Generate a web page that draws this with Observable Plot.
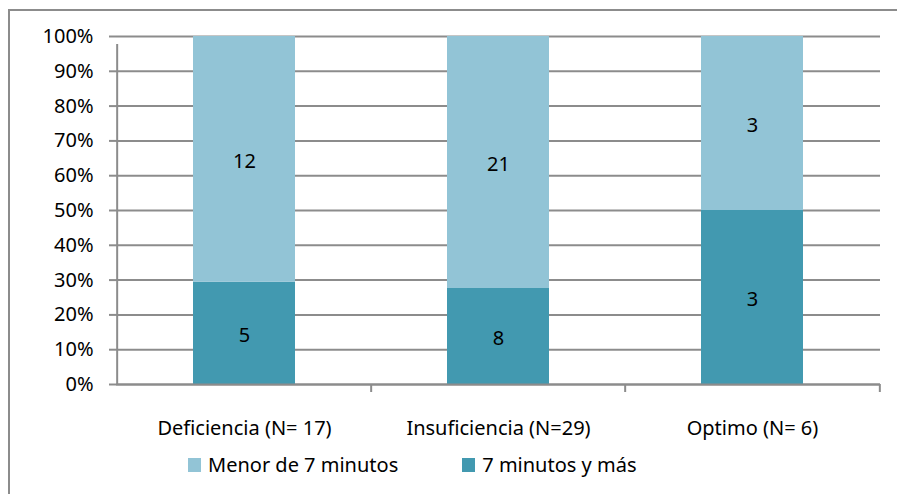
<!DOCTYPE html>
<html>
<head>
<meta charset="utf-8">
<script src="https://cdn.jsdelivr.net/npm/d3@7"></script>
<script src="https://cdn.jsdelivr.net/npm/@observablehq/plot@0.6"></script>
<style>
  html, body { margin: 0; padding: 0; background: #fff; }
  #chart { position: relative; width: 897px; height: 494px; overflow: hidden; font-family: "Noto Sans", sans-serif; }
  #frame { position: absolute; left: 8px; top: 9px; width: 1000px; height: 1000px; border-left: 2px solid #8c8c8c; border-top: 2px solid #8c8c8c; box-sizing: border-box; }
  #chart svg { position: absolute; left: 0; top: 0; }
  #legend { position: absolute; top: 451px; left: 188px; display: flex; align-items: center; font-size: 20px; color: #000; }
  .item { display: flex; align-items: center; }
  .sw { width: 13px; height: 14px; margin-right: 7px; }
</style>
</head>
<body>
<div id="chart"><div id="frame"></div></div>
<script>
// Groups (x axis), series names and counts per group
const categories = ["Deficiencia (N= 17)", "Insuficiencia (N=29)", "Optimo (N= 6)"];
const seriesNames = ["Menor de 7 minutos", "7 minutos y más"];
const seriesColors = ["#92c4d6", "#4299b0"];
const menorDe7 = [12, 21, 3];
const sieteYMas = [5, 8, 3];
const yTicks = [0, 0.1, 0.2, 0.3, 0.4, 0.5, 0.6, 0.7, 0.8, 0.9, 1];

// Long table: "7 minutos y más" first so it sits at the bottom of each stack
const rows = [];
categories.forEach((c, i) => {
  rows.push({cat: c, series: seriesNames[1], count: sieteYMas[i]});
  rows.push({cat: c, series: seriesNames[0], count: menorDe7[i]});
});

const W = 897, H = 494;
const mL = 116, mR = 17, mT = 36, mB = 110;
const step = (W - mL - mR) / categories.length;
const grid = "#8c8c8c";

const plot = Plot.plot({
  width: W,
  height: H,
  marginLeft: mL,
  marginRight: mR,
  marginTop: mT,
  marginBottom: mB,
  style: {fontFamily: "Noto Sans, sans-serif", fontSize: "20px", color: "#000", background: "transparent", overflow: "visible"},
  x: {domain: categories, paddingInner: 0.6, paddingOuter: 0.3, label: null},
  y: {domain: [0, 1], label: null},
  color: {domain: seriesNames, range: seriesColors},
  marks: [
    Plot.gridY(yTicks, {stroke: grid, strokeOpacity: 1, strokeWidth: 2}),
    Plot.axisY(yTicks, {tickFormat: d3.format(".0%"), tickSize: 7, tickPadding: 16, stroke: grid, strokeWidth: 2, label: null, fill: "#000", fontSize: 20}),
    Plot.axisX({tickSize: 0, tickPadding: 36, label: null, fill: "#000", fontSize: 20}),
    Plot.barY(rows, Plot.stackY({x: "cat", y: "count", fill: "series", offset: "normalize"})),
    Plot.text(rows, Plot.stackY({x: "cat", y: "count", z: "series", offset: "normalize", text: "count", fill: "#000", fontSize: 20, dy: 2})),
    // vertical axis line on the left, running down into the first category tick
    Plot.ruleX([categories[0]], {x: d => d, dx: -step / 2, y1: 0, y2: 1, insetBottom: -8, stroke: grid, strokeWidth: 2}),
    // category boundary ticks below the baseline
    Plot.ruleX(categories.slice(1), {x: d => d, dx: -step / 2, y1: 0, y2: 0, insetBottom: -8, stroke: grid, strokeWidth: 2}),
    Plot.ruleX([categories[categories.length - 1]], {x: d => d, dx: step / 2, y1: 0, y2: 0, insetBottom: -8, stroke: grid, strokeWidth: 2}),
    Plot.ruleY([0], {stroke: grid, strokeWidth: 2})
  ]
});

const chart = document.getElementById("chart");
chart.appendChild(plot);

// Legend below the plot
const legend = document.createElement("div");
legend.id = "legend";
seriesNames.forEach((name, i) => {
  const item = document.createElement("div");
  item.className = "item";
  if (i > 0) item.style.marginLeft = "64px";
  const sw = document.createElement("span");
  sw.className = "sw";
  sw.style.background = seriesColors[i];
  const label = document.createElement("span");
  label.textContent = name;
  item.appendChild(sw);
  item.appendChild(label);
  legend.appendChild(item);
});
chart.appendChild(legend);
</script>
</body>
</html>
